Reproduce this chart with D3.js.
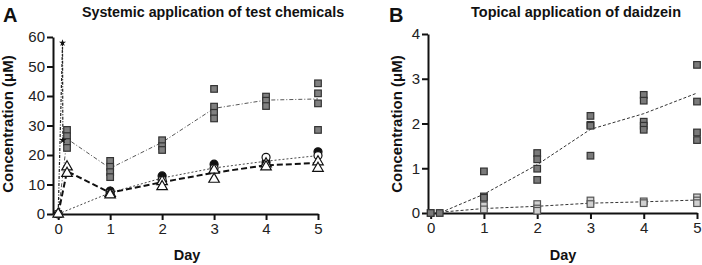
<!DOCTYPE html>
<html lang="en">
<head>
<meta charset="UTF-8"/>
<title>Concentration over days</title>
<script src="https://d3js.org/d3.v7.min.js"></script>
<style>
  body { margin: 0; background: #fff; }
  svg text { font-family: "Liberation Sans", Arial, sans-serif; fill: #111; }
  .tick text { font-size: 15px; fill: #222; }
  .axis path, .axis line { stroke: #111; stroke-width: 2; }
</style>
</head>
<body>
<script>
    var w = 702, h = 265;

    // ---- shared ticks ----
    var dayLabels = [0, 1, 2, 3, 4, 5];
    var yTicksA = [0, 10, 20, 30, 40, 50, 60];
    var yTicksB = [0, 1, 2, 3, 4];

    // ---- panel A data (systemic) ----
    var sqDaysA = [0, 0.17, 1, 2, 3, 4, 5];
    var sqValsA = [[0], [28.5, 26.4, 24.4, 22.4], [18, 16, 14.2, 12.5], [25, 23, 21.7],
                   [42.4, 36.4, 34.3, 32.4], [39.8, 38.4, 36.6], [44.3, 40.9, 37.5, 28.5]];
    var sqMeanA = [0, 25.5, 15.5, 24.3, 35.8, 38.6, 39];

    var starDays = [0, 0.083, 0.09];
    var starVals = [0, 58, 25];

    var triDays = [0, 0.17, 1, 2, 3, 4, 5];
    var triVals = [[0], [16, 13.8], [7, 6.5], [11, 9.3], [14.9, 11.8], [17, 16], [17.7, 15.5]];
    var triMean = [0, 14.5, 7.2, 10.8, 14, 16.5, 17.3];

    var dotDays = [1, 2, 3, 4, 5];
    var dotVals = [7.8, 12.9, 16.9, 17.5, 21.1];

    var ringDays = [0, 1, 2, 3, 4, 5];
    var ringVals = [0, 7.2, 11.5, 15.5, 19.2, 19.8];
    var ringMean = [0, 7.2, 12.2, 15.6, 17.9, 19.8];

    // ---- panel B data (topical daidzein) ----
    var darkDays = [0, 0.17, 1, 2, 3, 4, 5];
    var darkVals = [[0], [0], [0.93, 0.37, 0.34], [1.34, 1.2, 0.99, 0.74], [2.17, 1.97, 1.95, 1.28],
                    [2.64, 2.51, 2.04, 1.95, 1.86], [3.31, 2.49, 1.8, 1.63]];
    var darkMean = [0, 0, 0.42, 1.08, 1.87, 2.22, 2.68];

    var lightDays = [0, 1, 2, 3, 4, 5];
    var lightVals = [[0], [0.17, 0.08], [0.2, 0.1, 0.05], [0.28, 0.2], [0.26, 0.22], [0.35, 0.28, 0.22]];
    var lightMean = [0, 0.1, 0.15, 0.22, 0.25, 0.29];

    var svg = d3.select("body").append("svg").attr("width", w).attr("height", h);

    function flat(days, vals) {
        var out = [];
        days.forEach(function(d, i) {
            vals[i].forEach(function(v) { out.push([d, v]); });
        });
        return out;
    }
    function pairs(days, vals) {
        return days.map(function(d, i) { return [d, vals[i]]; });
    }

    function panel(opt) {
        var x = d3.scaleLinear().domain(opt.xdom).range(opt.xr);
        var y = d3.scaleLinear().domain(opt.ydom).range(opt.yr);
        var g = svg.append("g");

        g.append("g").attr("class", "axis")
            .attr("transform", "translate(0," + opt.yr[0] + ")")
            .call(d3.axisBottom(x).tickValues(dayLabels).tickFormat(d3.format("d"))
                  .tickSize(6).tickSizeOuter(0).tickPadding(3));

        g.append("g").attr("class", "axis")
            .attr("transform", "translate(" + opt.xr[0] + ",0)")
            .call(d3.axisLeft(y).tickValues(opt.yticks).tickFormat(d3.format("d"))
                  .tickSize(6).tickSizeOuter(0).tickPadding(2));

        g.append("text").text(opt.letter)
            .attr("x", opt.letterX).attr("y", 22)
            .style("font-size", "20px").style("font-weight", "bold");
        g.append("text").text(opt.title)
            .attr("x", opt.titleX).attr("y", 17).attr("text-anchor", "middle")
            .style("font-size", opt.titleSize).style("font-weight", "bold");
        g.append("text").text("Concentration (\u03bcM)")
            .attr("transform", "translate(" + opt.ylabX + ",124) rotate(-90)")
            .attr("text-anchor", "middle")
            .style("font-size", "15px").style("font-weight", "bold");
        g.append("text").text("Day")
            .attr("x", opt.dayX).attr("y", 260).attr("text-anchor", "middle")
            .style("font-size", "14.5px").style("font-weight", "bold");

        return { g: g, x: x, y: y };
    }

    function drawLine(p, data, dash, width, color) {
        var line = d3.line().x(function(d) { return p.x(d[0]); }).y(function(d) { return p.y(d[1]); });
        p.g.append("path").datum(data).attr("d", line)
            .attr("fill", "none").attr("stroke", color)
            .attr("stroke-width", width).attr("stroke-dasharray", dash);
    }

    function squares(p, data, fill, stroke) {
        p.g.selectAll(null).data(data).enter().append("rect")
            .attr("x", function(d) { return p.x(d[0]) - 3.3; })
            .attr("y", function(d) { return p.y(d[1]) - 3.3; })
            .attr("width", 6.6).attr("height", 6.6)
            .attr("fill", fill).attr("stroke", stroke).attr("stroke-width", 1.2);
    }

    function triangles(p, data) {
        p.g.selectAll(null).data(data).enter().append("path")
            .attr("d", d3.symbol().type(d3.symbolTriangle).size(48))
            .attr("transform", function(d) { return "translate(" + p.x(d[0]) + "," + p.y(d[1]) + ")"; })
            .attr("fill", "#fff").attr("stroke", "#111").attr("stroke-width", 1.2);
    }

    function circles(p, data, fill) {
        p.g.selectAll(null).data(data).enter().append("circle")
            .attr("cx", function(d) { return p.x(d[0]); })
            .attr("cy", function(d) { return p.y(d[1]); })
            .attr("r", 4).attr("fill", fill).attr("stroke", "#111").attr("stroke-width", 1.2);
    }

    function stars(p, data) {
        p.g.selectAll(null).data(data).enter().append("path")
            .attr("d", d3.symbol().type(d3.symbolStar).size(16))
            .attr("transform", function(d) { return "translate(" + p.x(d[0]) + "," + p.y(d[1]) + ")"; })
            .attr("fill", "#111");
    }

    // ---- panel A ----
    var A = panel({ xdom: [-0.1, 5], xr: [53, 318], ydom: [0, 60], yr: [214, 37], yticks: yTicksA,
                    letter: "A", letterX: 3, title: "Systemic application of test chemicals", titleX: 213,
                    titleSize: "14.3px", ylabX: 13, dayX: 187 });

    drawLine(A, pairs(sqDaysA, sqMeanA), "4,2,1,2", 0.9, "#444");
    drawLine(A, pairs(starDays, starVals), "3,1.5,1,1.5", 1.2, "#222");
    drawLine(A, pairs(ringDays, ringMean), "2,2", 0.9, "#333");
    drawLine(A, pairs(triDays, triMean), "6,3", 2, "#111");

    squares(A, flat(sqDaysA, sqValsA), "#808080", "#333");
    circles(A, pairs(dotDays, dotVals), "#111");
    circles(A, pairs(ringDays, ringVals), "#fff");
    triangles(A, flat(triDays, triVals));
    stars(A, pairs(starDays, starVals).slice(1));

    // ---- panel B ----
    var B = panel({ xdom: [-0.05, 5], xr: [428, 697], ydom: [0, 4], yr: [213, 34], yticks: yTicksB,
                    letter: "B", letterX: 389, title: "Topical application of daidzein", titleX: 576,
                    titleSize: "14.5px", ylabX: 402, dayX: 563 });

    drawLine(B, pairs(darkDays, darkMean), "3,2", 1, "#333");
    drawLine(B, pairs(lightDays, lightMean), "3,2", 1, "#333");

    squares(B, flat(lightDays, lightVals), "#d0d0d0", "#555");
    squares(B, flat(darkDays, darkVals), "#7a7a7a", "#333");
</script>
</body>
</html>
